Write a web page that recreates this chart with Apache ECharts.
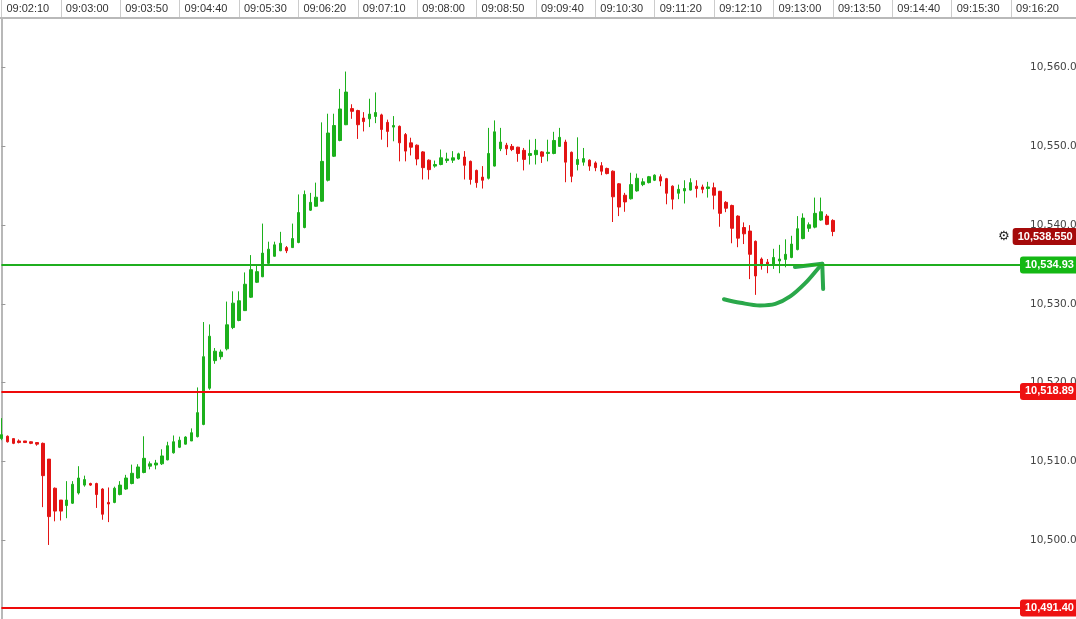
<!DOCTYPE html>
<html><head><meta charset="utf-8">
<script src="https://cdn.jsdelivr.net/npm/echarts@6/dist/echarts.min.js"></script>
<style>html,body{margin:0;padding:0;background:#fff;overflow:hidden}#c{width:1076px;height:619px}</style>
</head><body><div id="c"></div>
<script>
// ---- data ----
const startTime = '09:02:10';
const slotCount = 173; // 5-second slots shown on the axis
const tickLabels = ['09:02:10','09:03:00','09:03:50','09:04:40','09:05:30','09:06:20','09:07:10','09:08:00','09:08:50',
  '09:09:40','09:10:30','09:11:20','09:12:10','09:13:00','09:13:50','09:14:40','09:15:30','09:16:20'];

const opens = [10512.9,10513.2,10512.9,10512.6,10512.6,10512.5,10512.4,10512.3,10510.3,10506.6,
10505.1,10504.4,10504.7,10506.0,10507.0,10507.2,10507.2,10506.5,10504.8,10504.8,
10505.8,10506.5,10507.2,10507.9,10508.6,10509.4,10509.55,10509.7,10510.2,10511.1,
10511.8,10512.2,10512.6,10513.15,10514.7,10519.3,10522.8,10523.3,10524.3,10527.0,
10527.9,10529.15,10530.85,10532.75,10533.45,10535.15,10536.05,10536.75,10537.15,10537.15,
10537.8,10539.7,10541.9,10542.4,10543.05,10545.7,10548.75,10550.75,10552.75,10554.8,
10554.55,10553.6,10553.5,10553.8,10554.0,10553.05,10552.45,10552.55,10551.5,10550.45,
10550.15,10549.3,10548.25,10547.5,10547.7,10548.2,10548.25,10548.4,10548.65,10548.1,
10546.95,10546.1,10545.95,10547.5,10549.7,10550.15,10550.0,10549.9,10549.5,10548.85,
10548.95,10549.3,10549.1,10549.1,10550.0,10550.55,10549.25,10547.7,10548.0,10548.25,
10547.9,10547.55,10547.2,10546.85,10545.25,10543.8,10543.35,10544.35,10545.15,10545.4,
10545.7,10546.15,10545.9,10544.95,10544.05,10544.35,10544.45,10544.95,10544.85,10544.65,
10544.75,10544.3,10542.9,10542.5,10541.15,10539.7,10539.25,10537.95,10535.7,10535.3,
10534.9,10535.45,10535.65,10535.9,10536.9,10538.3,10539.6,10539.75,10540.65,10541.15,
10540.6];
const closes = [10513.4,10512.5,10512.3,10512.4,10512.4,10512.3,10512.2,10508.2,10503.0,10503.7,
10503.7,10505.1,10507.1,10507.9,10507.7,10507.0,10505.8,10503.3,10504.6,10506.6,
10507.0,10507.9,10508.5,10509.3,10510.4,10509.7,10509.8,10510.7,10512.0,10512.5,
10512.7,10513.1,10513.65,10516.2,10523.3,10525.9,10524.0,10523.9,10527.35,10530.1,
10530.4,10532.5,10534.35,10534.1,10536.45,10536.95,10537.5,10537.7,10536.75,10538.3,
10541.6,10543.9,10542.9,10543.55,10548.1,10551.7,10552.65,10554.75,10556.9,10554.45,
10552.75,10553.15,10554.1,10554.3,10552.15,10551.9,10552.65,10550.45,10549.4,10549.9,
10548.4,10547.3,10547.05,10547.7,10548.55,10548.4,10548.55,10549.05,10547.6,10545.8,
10545.4,10545.7,10549.1,10551.85,10550.55,10549.7,10549.6,10549.1,10548.35,10549.1,
10549.5,10548.75,10549.25,10550.75,10551.15,10548.0,10546.2,10548.35,10548.45,10547.5,
10547.3,10546.85,10546.55,10543.6,10542.3,10542.95,10545.15,10545.95,10545.5,10546.15,
10546.35,10545.6,10544.05,10543.3,10544.55,10544.65,10545.4,10544.65,10544.55,10544.85,
10543.8,10541.5,10542.15,10539.6,10538.35,10538.9,10536.3,10533.55,10534.85,10535.0,
10535.9,10535.7,10536.3,10537.6,10539.55,10540.9,10540.05,10541.5,10541.7,10540.1,
10539.2];
const lows = [10512.7,10512.4,10512.2,10512.3,10512.35,10512.2,10512.0,10504.2,10499.4,10502.4,
10502.5,10502.8,10504.6,10505.8,10506.8,10506.9,10504.1,10502.6,10502.3,10504.7,
10505.7,10506.4,10507.1,10507.8,10508.5,10509.0,10509.0,10509.55,10510.15,10511.0,
10511.7,10512.15,10512.6,10513.05,10514.6,10519.1,10522.4,10522.95,10524.1,10526.8,
10527.8,10529.1,10530.75,10532.65,10533.4,10535.05,10536.0,10536.7,10536.45,10537.1,
10537.7,10539.6,10541.8,10542.35,10542.95,10545.55,10548.65,10550.65,10552.7,10553.5,
10550.95,10551.9,10552.45,10552.95,10550.85,10549.9,10550.65,10548.1,10548.1,10548.85,
10547.6,10545.8,10545.8,10547.3,10547.6,10547.9,10547.9,10548.3,10545.8,10545.15,
10544.75,10544.65,10545.8,10547.45,10549.4,10548.9,10549.4,10548.05,10546.95,10547.7,
10547.7,10547.9,10548.1,10549.0,10549.95,10545.45,10545.45,10546.95,10547.55,10546.9,
10546.85,10546.35,10546.45,10540.4,10541.15,10541.7,10543.25,10544.25,10544.95,10545.3,
10545.6,10544.95,10542.65,10542.0,10543.3,10542.75,10544.4,10543.5,10544.05,10543.5,
10542.0,10539.8,10541.65,10537.7,10537.2,10537.6,10533.15,10531.15,10534.35,10533.9,
10534.45,10533.9,10534.65,10535.8,10536.8,10538.2,10539.15,10539.6,10540.55,10540.0,
10538.6];
const highs = [10515.5,10513.3,10512.9,10512.8,10512.6,10512.55,10512.45,10512.4,10510.3,10506.7,
10505.1,10507.5,10507.5,10509.4,10508.2,10507.3,10507.3,10506.6,10506.7,10506.8,
10507.5,10508.3,10509.6,10509.65,10513.2,10510.0,10510.2,10511.55,10512.5,10513.3,
10513.15,10513.2,10514.2,10519.4,10527.7,10527.4,10524.4,10524.2,10530.3,10531.6,
10531.6,10534.0,10536.2,10534.85,10540.2,10537.9,10537.9,10539.15,10537.35,10540.2,
10543.9,10544.4,10544.1,10545.4,10553.05,10554.15,10554.15,10557.3,10559.5,10555.35,
10554.65,10554.35,10556.05,10556.85,10554.15,10553.4,10553.85,10552.65,10551.7,10551.1,
10550.25,10549.4,10548.35,10548.2,10549.6,10549.2,10549.4,10549.2,10549.4,10548.2,
10547.05,10547.5,10552.35,10553.3,10552.35,10550.45,10550.3,10549.95,10549.8,10550.85,
10550.95,10549.4,10550.85,10551.85,10552.35,10550.85,10549.35,10551.15,10549.8,10548.35,
10548.1,10548.0,10547.3,10546.95,10545.35,10544.1,10546.65,10546.55,10545.95,10546.25,
10546.45,10546.45,10546.0,10545.05,10545.15,10545.7,10545.95,10545.7,10545.15,10545.5,
10545.4,10544.35,10543.05,10542.6,10541.25,10540.35,10540.0,10538.05,10535.9,10535.7,
10537.0,10537.5,10538.2,10538.65,10541.15,10541.5,10540.35,10543.5,10543.5,10541.4,
10540.75];

const supportLevel = 10534.93;              // green line
const redLevels = [10518.89, 10491.40];     // red lines
const lastPrice = 10538.55;                 // current price tag

// hand-drawn arrow annotation, in (slot index, price)
const arrowCurve = [[121.65,10530.6],[124.4,10530.15],[127.7,10529.8],[130.3,10530.0],[132.8,10530.95],[135.3,10532.6],[137.4,10534.4],[138.2,10535.1]];
const arrowHead = [[133.6,10534.7],[138.2,10535.1],[138.35,10531.9]];

// ---- helpers ----
function fmtNum(v, d) {
  const s = Number(v).toFixed(d);
  const parts = s.split('.');
  parts[0] = parts[0].replace(/\B(?=(\d{3})+$)/g, ',');
  return parts.join('.');
}
function toSec(t){const p=t.split(':').map(Number);return p[0]*3600+p[1]*60+p[2];}
function fromSec(s){const h=Math.floor(s/3600),m=Math.floor(s%3600/60),x=s%60;return [h,m,x].map(n=>String(n).padStart(2,'0')).join(':');}
const categories = [];
for (let i = 0; i < slotCount; i++) categories.push(fromSec(toSec(startTime) + 5 * i));
const candles = opens.map((o, i) => [o, closes[i], lows[i], highs[i]]);

const UP = '#1cb01c', DOWN = '#e31414';
const GREEN_LINE = '#1fae1f', GREEN_BOX = '#14b814';
const RED_LINE = '#ee0a0a', RED_BOX = '#ee1111';
const FONT = 'Liberation Sans, Arial, sans-serif';

function levelItem(v, lineColor, boxColor) {
  return {
    yAxis: v,
    lineStyle: {color: lineColor, width: 2, type: 'solid'},
    label: {show: true, position: 'end', distance: -3, formatter: fmtNum(v, 2),
      backgroundColor: boxColor, color: '#fff', fontWeight: 'bold', fontSize: 11, fontFamily: FONT,
      padding: [3, 5, 3, 5], borderRadius: 3}
  };
}

const chart = echarts.init(document.getElementById('c'), null, {renderer: 'canvas'});
chart.setOption({
  animation: false,
  backgroundColor: '#ffffff',
  grid: {left: 1.4, right: 53, top: 18, bottom: 0, containLabel: false, outerBoundsMode: 'none'},
  xAxis: [{
    type: 'category', data: categories, position: 'top', boundaryGap: false,
    axisLine: {show: false},
    axisTick: {show: true, alignWithLabel: true, interval: (i) => i % 10 === 0, length: 18,
      lineStyle: {color: '#cccccc', width: 1}},
    axisLabel: {interval: (i) => i % 10 === 0, formatter: (v, i) => tickLabels[i / 10] || '',
      align: 'left', padding: [0, 0, 0, 5], margin: 4, color: '#333', fontSize: 11, fontFamily: FONT},
    splitLine: {show: false}
  }, {
    type: 'value', min: 0, max: slotCount - 1, show: false
  }],
  yAxis: {
    type: 'value', position: 'right', min: 10490, max: 10566.3, interval: 10,
    axisLine: {show: true, lineStyle: {color: '#b8b8b8', width: 2}},
    axisTick: {show: true, length: 4, lineStyle: {color: '#999'}},
    axisLabel: {margin: 7, color: '#444', fontSize: 10.5, fontFamily: 'DejaVu Sans, Verdana, sans-serif',
      showMinLabel: false, showMaxLabel: false, align: 'left',
      formatter: (v) => fmtNum(v, 2)},
    splitLine: {show: false}
  },
  graphic: [{type: 'rect', z: 100, shape: {x: 0, y: 17, width: 1076, height: 2}, style: {fill: '#b9b9b9'}}],
  series: [{
    type: 'candlestick', data: candles, barWidth: 3, clip: false,
    itemStyle: {color: UP, color0: DOWN, borderColor: UP, borderColor0: DOWN, borderWidth: 1},
    markLine: {
      symbol: 'none', silent: true, animation: false,
      data: [
        levelItem(supportLevel, GREEN_LINE, GREEN_BOX),
        levelItem(redLevels[0], RED_LINE, RED_BOX),
        levelItem(redLevels[1], RED_LINE, RED_BOX),
        {
          yAxis: lastPrice,
          lineStyle: {color: 'rgba(0,0,0,0)', width: 1},
          label: {show: true, position: 'end', distance: -25,
            formatter: '{g|\u2699}{b|' + fmtNum(lastPrice, 3) + '}',
            rich: {
              g: {color: '#222', fontSize: 13, fontFamily: 'DejaVu Sans', padding: [0, 3, 0, 0]},
              b: {backgroundColor: '#a50a0a', color: '#fff', fontWeight: 'bold', fontSize: 11, fontFamily: FONT,
                padding: [3, 5, 3, 5], borderRadius: 3}
            }}
        }
      ]
    }
  }, {
    type: 'line', xAxisIndex: 1, data: arrowCurve, smooth: 0.35, showSymbol: false, silent: true,
    lineStyle: {color: '#2aa84a', width: 4, cap: 'round', join: 'round'}
  }, {
    type: 'line', xAxisIndex: 1, data: arrowHead, smooth: false, showSymbol: false, silent: true,
    lineStyle: {color: '#2aa84a', width: 4, cap: 'round', join: 'round'}
  }]
});
</script>
</body></html>
